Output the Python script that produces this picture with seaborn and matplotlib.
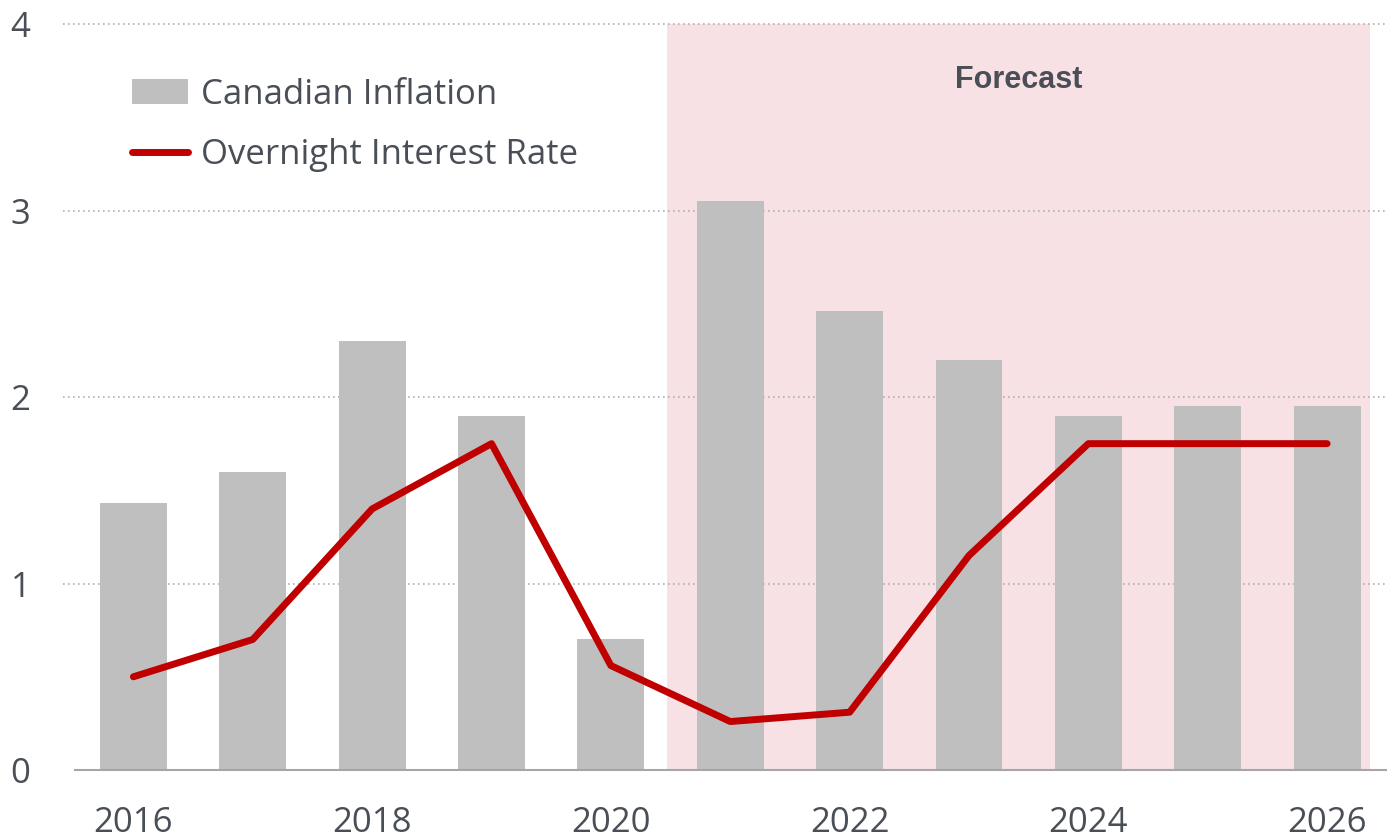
import matplotlib
matplotlib.use("Agg")
import matplotlib.pyplot as plt
import seaborn as sns
import numpy as np
import pandas as pd
from matplotlib.patches import Patch
from matplotlib.lines import Line2D

years = [2016, 2017, 2018, 2019, 2020, 2021, 2022, 2023, 2024, 2025, 2026]
inflation = [1.43, 1.60, 2.30, 1.90, 0.70, 3.05, 2.46, 2.20, 1.90, 1.95, 1.95]
overnight_rate = [0.50, 0.70, 1.40, 1.75, 0.56, 0.26, 0.31, 1.15, 1.75, 1.75, 1.75]
tick_years = [2016, 2018, 2020, 2022, 2024, 2026]
y_ticks = [0, 1, 2, 3, 4]

sns.set_theme(style="white")
plt.rcParams['font.family'] = ['Open Sans', 'DejaVu Sans']

text_color = '#4a4f57'
df = pd.DataFrame({'Year': years, 'Inflation': inflation, 'Rate': overnight_rate})
df['pos'] = np.arange(len(df))

fig = plt.figure(figsize=(13.87, 8.4), dpi=100)
ax = fig.add_axes([0.054, 0.0833, 0.945, 0.8881])

# forecast shading
ax.axvspan(4.47, 10.36, color='#f7e1e4', zorder=0, lw=0)

# dotted gridlines
for y in y_ticks[1:]:
    ax.axhline(y, xmin=-0.009, xmax=1, color='#b0b0b0', ls=(0, (1, 2)), lw=1.2,
               clip_on=False, zorder=1)

sns.barplot(data=df, x='pos', y='Inflation', color='#bfbfbf', width=0.56,
            saturation=1, native_scale=True, linewidth=0, ax=ax, zorder=2)
sns.lineplot(data=df, x='pos', y='Rate', color='#c00000', lw=5,
             solid_capstyle='round', ax=ax, zorder=3)

ax.set_xlim(-0.49, 10.49)
ax.set_ylim(0, 4)
ax.set_yticks(y_ticks)
ax.set_xticks([years.index(y) for y in tick_years])
ax.set_xticklabels([str(y) for y in tick_years])
ax.set_xlabel('')
ax.set_ylabel('')
ax.tick_params(axis='y', length=0, pad=32, labelsize=25, labelcolor=text_color)
ax.tick_params(axis='x', length=0, pad=26, labelsize=25, labelcolor=text_color)

for s in ['top', 'right', 'left']:
    ax.spines[s].set_visible(False)
ax.spines['bottom'].set_color('#a6a6a6')
ax.spines['bottom'].set_linewidth(1.5)
ax.spines['bottom'].set_zorder(4)

ax.text(7.42, 3.70, 'Forecast', family=['Liberation Sans', 'DejaVu Sans'],
        fontweight='bold', fontsize=22, color=text_color, ha='center', va='center')

handles = [Patch(facecolor='#bfbfbf', edgecolor='none', label='Canadian Inflation'),
           Line2D([0], [0], color='#c00000', lw=5, solid_capstyle='round',
                  label='Overnight Interest Rate')]
ax.legend(handles=handles, loc='upper left', bbox_to_anchor=(0.02, 0.97),
          frameon=False, fontsize=25, labelcolor=text_color, labelspacing=0.76,
          handlelength=1.6, handletextpad=0.38)

fig.savefig('out.png', dpi=100)
